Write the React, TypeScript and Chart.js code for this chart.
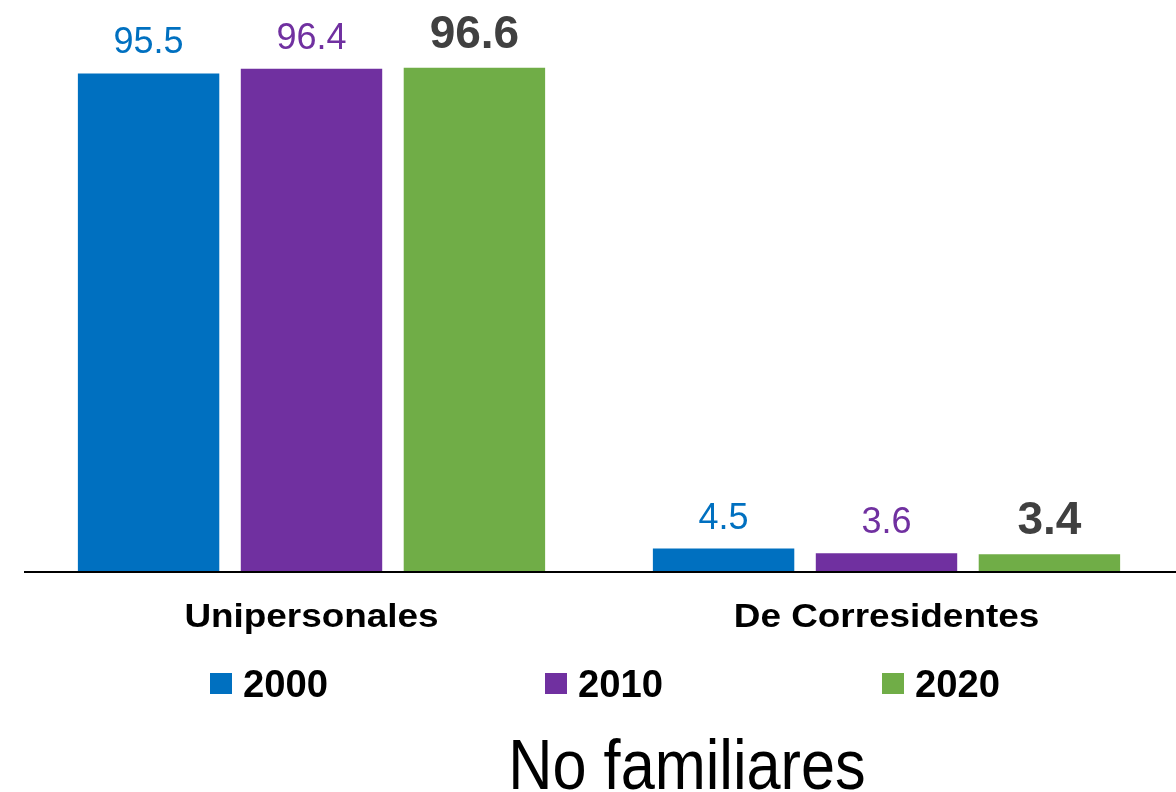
import React, { useEffect, useRef } from "react";
import { Chart, registerables } from "chart.js";

Chart.register(...registerables);

const categories = ["Unipersonales", "De Corresidentes"];
const seriesLabels = ["2000", "2010", "2020"];
const values2000 = [95.5, 4.5];
const values2010 = [96.4, 3.6];
const values2020 = [96.6, 3.4];
const chartTitle = "No familiares";

const barColors = ["#0070C0", "#7030A0", "#70AD47"];
const labelColors = ["#0070C0", "#7030A0", "#404040"];
const FONT = "'Liberation Sans', Arial, sans-serif";

const drawScaled = (
  ctx: CanvasRenderingContext2D,
  text: string,
  x: number,
  y: number,
  sx: number,
  align: CanvasTextAlign
) => {
  ctx.save();
  ctx.translate(x, y);
  ctx.scale(sx, 1);
  ctx.textAlign = align;
  ctx.textBaseline = "alphabetic";
  ctx.fillText(text, 0, 0);
  ctx.restore();
};

const decorPlugin = {
  id: "decor",
  afterDatasetsDraw(chart: any) {
    const ctx: CanvasRenderingContext2D = chart.ctx;
    const area = chart.chartArea;
    ctx.save();
    // axis line
    ctx.fillStyle = "#000000";
    ctx.fillRect(area.left, area.bottom - 1, chart.width - area.left, 2);

    // value labels
    chart.data.datasets.forEach((ds: any, di: number) => {
      const meta = chart.getDatasetMeta(di);
      meta.data.forEach((el: any, i: number) => {
        const v = ds.data[i];
        ctx.fillStyle = labelColors[di];
        ctx.font = di === 2 ? `bold 46px ${FONT}` : `36px ${FONT}`;
        drawScaled(ctx, v.toFixed(1), el.x, el.y - 20, 1, "center");
      });
    });

    // category labels
    const xs = chart.scales.x;
    ctx.fillStyle = "#000000";
    ctx.font = `bold 34px ${FONT}`;
    categories.forEach((c, i) => {
      const px = xs.getPixelForValue(i);
      drawScaled(ctx, c, px, 627, 1.085, "center");
    });

    // legend
    const legendX = [210, 545, 882];
    seriesLabels.forEach((s, i) => {
      ctx.fillStyle = barColors[i];
      ctx.fillRect(legendX[i], 673, 22, 21);
      ctx.fillStyle = "#000000";
      ctx.font = `bold 39px ${FONT}`;
      drawScaled(ctx, s, legendX[i] + 33, 697, 0.98, "left");
    });

    // title
    ctx.fillStyle = "#000000";
    ctx.font = `70px ${FONT}`;
    drawScaled(ctx, chartTitle, 687, 789, 0.875, "center");
    ctx.restore();
  },
};

export default function App() {
  const ref = useRef<HTMLCanvasElement | null>(null);
  useEffect(() => {
    if (!ref.current) return;
    const chart = new Chart(ref.current, {
      type: "bar",
      data: {
        labels: categories,
        datasets: [
          { label: seriesLabels[0], data: values2000, backgroundColor: barColors[0] },
          { label: seriesLabels[1], data: values2010, backgroundColor: barColors[1] },
          { label: seriesLabels[2], data: values2020, backgroundColor: barColors[2] },
        ],
      },
      options: {
        responsive: false,
        animation: false,
        devicePixelRatio: 1,
        layout: { padding: { top: 50, left: 24, right: 2, bottom: 220 } },
        datasets: {
          bar: { categoryPercentage: 0.85, barPercentage: 0.868 },
        },
        scales: {
          x: { display: false },
          y: { display: false, min: 0, max: 100 },
        },
        plugins: {
          legend: { display: false },
          tooltip: { enabled: false },
        },
      },
      plugins: [decorPlugin],
    });
    return () => chart.destroy();
  }, []);
  return (
    <div style={{ position: "fixed", left: 0, top: 0, width: 1176, height: 792, background: "#ffffff" }}>
      <canvas ref={ref} width={1176} height={792} style={{ display: "block" }} />
    </div>
  );
}
